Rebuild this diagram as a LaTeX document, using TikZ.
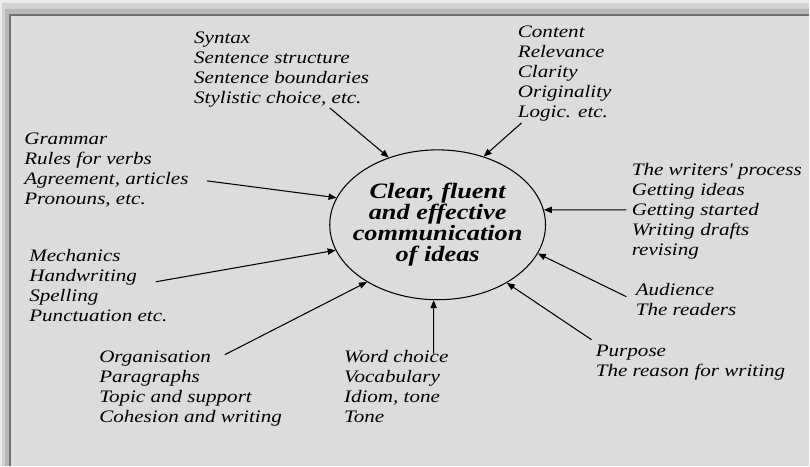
\documentclass[tikz,border=0pt]{standalone}
\usepackage{fontspec}
\usepackage{tikz}
\usetikzlibrary{arrows.meta, shapes.geometric}
\newfontfamily\diagfont[FakeStretch=1.2]{Liberation Serif}
\definecolor{frOuter}{HTML}{ECECEC}
\definecolor{frBand}{HTML}{D2D2D2}
\definecolor{frShade}{HTML}{B8B8B8}
\definecolor{frInner}{HTML}{DCDCDC}
\definecolor{frLine}{HTML}{707070}

\begin{document}
\begin{tikzpicture}[
  x=0.02cm, y=-0.02cm,
  grp/.style={anchor=base west, align=left, inner sep=0pt,
    font=\diagfont\itshape\fontsize{10}{11.5}\selectfont},
  goal/.style={anchor=base, align=center, inner sep=0pt,
    font=\diagfont\bfseries\itshape\fontsize{12.5}{12.1}\selectfont},
  arr/.style={-{Triangle[length=4.5pt,width=3.6pt]}, line width=0.6pt}
]
  % frame
  \fill[frOuter] (0,0) rectangle (810,466);
  \fill[frBand] (2,3) rectangle (810,466);
  \fill[frShade] (5,9) rectangle (810,466);
  \fill[frInner] (10,15) rectangle (810,466);
  \draw[frLine, line width=0.8pt] (10,466) -- (10,15) -- (810,15);
  \useasboundingbox (0,0) rectangle (810,466);

  \node[draw, ellipse, line width=0.6pt, minimum width=4.32cm, minimum height=3cm, inner sep=0pt] (ell) at (438,225) {};
  % base anchor sits on the last line
  \node[goal] (goaltxt) at (438,262) {Clear, fluent\\and effective\\communication\\of ideas};

  \node[grp] (syntax) at (194,104) {Syntax\\Sentence structure\\Sentence boundaries\\Stylistic choice, etc.};
  \node[grp] (content) at (518,118) {Content\\Relevance\\Clarity\\Originality\\Logic. etc.};
  \node[grp] (grammar) at (24,205) {Grammar\\Rules for verbs\\Agreement, articles\\Pronouns, etc.};
  \node[grp] (mechanics) at (29,322) {Mechanics\\Handwriting\\Spelling\\Punctuation etc.};
  \node[grp] (organis) at (99,423) {Organisation\\Paragraphs\\Topic and support\\Cohesion and writing};
  \node[grp] (wordch) at (344,423) {Word choice\\Vocabulary\\Idiom, tone\\Tone};
  \node[grp] (process) at (632,256) {The writers' process\\Getting ideas\\Getting started\\Writing drafts\\revising};
  \node[grp] (audience) at (636,316) {Audience\\The readers};
  \node[grp] (purpose) at (596,377) {Purpose\\The reason for writing};

  \coordinate (syntax-out) at (330,108);
  \coordinate (content-out) at (522,123);
  \coordinate (grammar-out) at (207,181);
  \coordinate (mechanics-out) at (156,282);
  \coordinate (organis-out) at (225,355);
  \coordinate (wordch-out) at (434,354);
  \coordinate (process-out) at (627,210);
  \coordinate (audience-out) at (627,297);
  \coordinate (purpose-out) at (592,340);

  \foreach \src/\ang in {syntax/126, content/56, grammar/165, mechanics/194,
                         organis/219, wordch/267, process/8, audience/344, purpose/320} {
    \draw[arr] (\src-out) -- (ell.\ang);
  }
\end{tikzpicture}
\end{document}
